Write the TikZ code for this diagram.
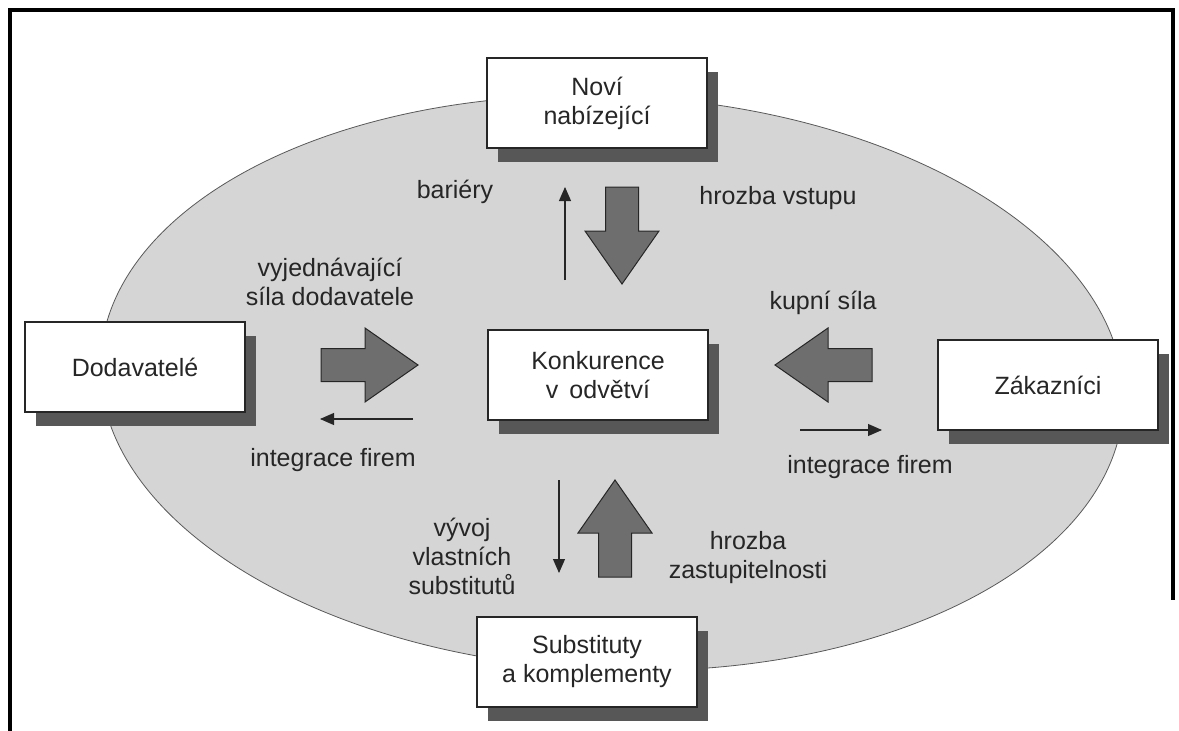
\documentclass[tikz,border=0pt]{standalone}
\usepackage{fontspec}
\setmainfont{Liberation Sans}
\usetikzlibrary{shadows,arrows.meta}
\definecolor{ovalgray}{HTML}{D5D5D5}
\definecolor{arrowgray}{HTML}{6E6E6E}
\definecolor{shadowgray}{HTML}{575757}
\definecolor{inkgray}{HTML}{262626}
\begin{document}
\begin{tikzpicture}[x=1pt,y=-1pt,
  every node/.style={font=\fontsize{25}{29}\selectfont, text=inkgray},
  box/.style={draw=inkgray, line width=1.2pt, fill=white, minimum width=220pt,
    minimum height=90pt, align=center, inner sep=0pt,
    drop shadow={shadow xshift=11pt, shadow yshift=-14pt, fill=shadowgray, opacity=1}},
  lbl/.style={align=center, inner sep=0pt},
  thin/.style={draw=inkgray, line width=1.1pt, -{Triangle[length=14pt,width=12pt]}},
  blockarrow/.style={fill=arrowgray, draw=inkgray, line width=1pt, line join=miter},
  bigarrow/.pic={\path[blockarrow] (0,-16.5) -- (44,-16.5) -- (44,-37) -- (97,0)
     -- (44,37) -- (44,16.5) -- (0,16.5) -- cycle;}
]
\useasboundingbox (0,0) rectangle (1179,731);

% frame
\draw[line width=4.5pt] (10,731) -- (10,10) -- (1173,10) -- (1173,600);

% industry oval, tilted slightly
\coordinate (ovalcentre) at (612,383);
\path[fill=ovalgray, draw=gray!70!black, line width=0.8pt, rotate around={-2.5:(ovalcentre)}]
  (ovalcentre) ellipse [x radius=512pt, y radius=287pt];

% the five forces
\node[box] (entrants) at (597,103) {Noví\\nabízející};
\node[box] (suppliers) at (135,367) {Dodavatelé};
\node[box] (rivalry) at (598,375) {Konkurence\\v\, odvětví};
\node[box] (buyers) at (1048,385) {Zákazníci};
\node[box] (substitutes) at (587,662) {Substituty\\a komplementy};

% pressure arrows
\pic (threatentry) at (622,187) [rotate=-90] {bigarrow};
\pic (supplierpower) at (321,365) {bigarrow};
\pic (buyerpower) at (872,365) [rotate=180] {bigarrow};
\pic (threatsubst) at (615,577) [rotate=90] {bigarrow};

% counter-moves
\coordinate (barfrom) at (565,280);
\coordinate (barto) at (565,187);
\draw[thin] (barfrom) -- (barto);
\coordinate (intLfrom) at (413,419);
\coordinate (intLto) at (320,419);
\draw[thin] (intLfrom) -- (intLto);
\coordinate (intRfrom) at (800,430);
\coordinate (intRto) at (882,430);
\draw[thin] (intRfrom) -- (intRto);
\coordinate (subfrom) at (559,480);
\coordinate (subto) at (559,573);
\draw[thin] (subfrom) -- (subto);

% labels
\node[lbl] (lbarriers) at (455,192) {bariéry};
\node[lbl] (lentry) at (778,198) {hrozba vstupu};
\node[lbl] (lsupp) at (330,282) {vyjednávající\\síla dodavatele};
\node[lbl] (lbuy) at (823,303) {kupní síla};
\node[lbl] (lintL) at (333,460) {integrace firem};
\node[lbl] (lintR) at (870,467) {integrace firem};
\node[lbl] (lown) at (462,556) {vývoj\\vlastních\\substitutů};
\node[lbl] (lsubst) at (748,558) {hrozba\\zastupitelnosti};
\end{tikzpicture}
\end{document}
